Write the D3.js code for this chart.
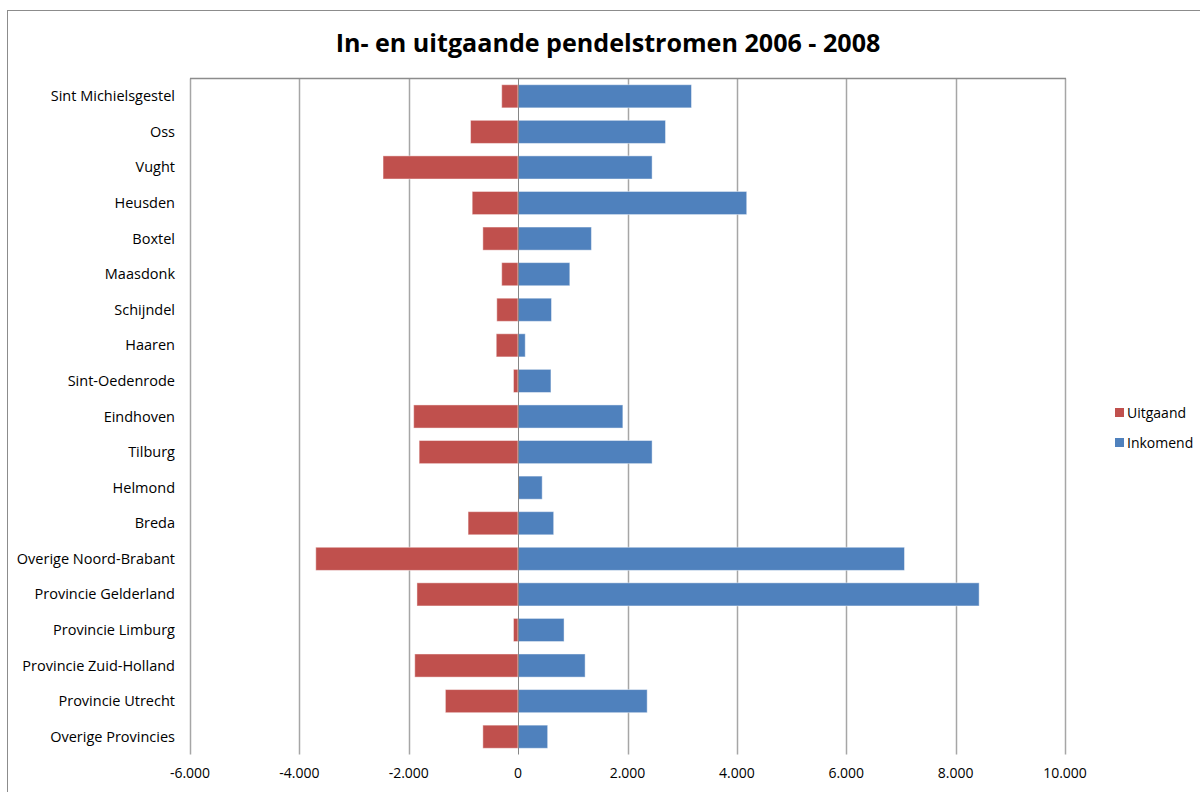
<!DOCTYPE html>
<html><head><meta charset="utf-8">
<script src="https://cdn.jsdelivr.net/npm/d3@7"></script>
<style>body{margin:0;background:#fff}svg{display:block}text{font-family:"Open Sans",Lato,sans-serif;fill:#000}</style>
</head><body><svg id="c" width="1200" height="792"></svg>
<script>
const title = "In- en uitgaande pendelstromen 2006 - 2008";
const categories = ["Sint Michielsgestel","Oss","Vught","Heusden","Boxtel","Maasdonk","Schijndel","Haaren","Sint-Oedenrode","Eindhoven","Tilburg","Helmond","Breda","Overige Noord-Brabant","Provincie Gelderland","Provincie Limburg","Provincie Zuid-Holland","Provincie Utrecht","Overige Provincies"];
const uitgaand = [-300,-870,-2470,-840,-645,-300,-390,-400,-85,-1910,-1810,0,-915,-3700,-1850,-85,-1890,-1330,-645];
const inkomend = [3170,2695,2450,4180,1340,945,610,130,600,1915,2450,440,650,7065,8430,840,1225,2360,540];
const seriesNames = ["Uitgaand","Inkomend"];
const colors = ["#C0504D","#4F81BD"];
const xTicks = [-6000,-4000,-2000,0,2000,4000,6000,8000,10000];

const svg = d3.select("#c");
const L=190,R=1065,T=78.5,B=754.5;
svg.append("rect").attr("x",7.5).attr("y",10.5).attr("width",1300).attr("height",900)
  .attr("fill","none").attr("stroke","#8c8c8c").attr("stroke-width",1);

const tt = svg.append("text").attr("x",608).attr("y",52).attr("text-anchor","middle")
  .attr("font-weight","bold").attr("font-size",24).text(title);
{ const w = tt.node().getComputedTextLength(); if (w>0) tt.attr("font-size", 24*545/w); }

const x = d3.scaleLinear().domain([-6000,10000]).range([L,R]);
const y = d3.scaleBand().domain(categories).range([T,B]).paddingInner(0.35).paddingOuter(0.175);

svg.append("g").selectAll("line").data(xTicks.filter(d=>d!==0)).join("line")
  .attr("x1",d=>Math.round(x(d))+0.5).attr("x2",d=>Math.round(x(d))+0.5)
  .attr("y1",T).attr("y2",B).attr("stroke","#a6a6a6").attr("stroke-width",1.5);
svg.append("line").attr("x1",L).attr("x2",R+1).attr("y1",T).attr("y2",T).attr("stroke","#8c8c8c").attr("stroke-width",1.5);

const g = svg.append("g");
g.selectAll("rect.u").data(categories).join("rect").attr("class","u")
  .attr("x",(d,i)=>x(Math.min(0,uitgaand[i]))).attr("width",(d,i)=>Math.abs(x(uitgaand[i])-x(0)))
  .attr("y",d=>y(d)).attr("height",y.bandwidth()).attr("fill",colors[0])
  .attr("stroke","rgba(255,255,255,0.45)").attr("stroke-width",1);
g.selectAll("rect.i").data(categories).join("rect").attr("class","i")
  .attr("x",x(0)).attr("width",(d,i)=>x(inkomend[i])-x(0))
  .attr("y",d=>y(d)).attr("height",y.bandwidth()).attr("fill",colors[1])
  .attr("stroke","rgba(255,255,255,0.45)").attr("stroke-width",1);

svg.append("line").attr("x1",Math.round(x(0))+0.5).attr("x2",Math.round(x(0))+0.5)
  .attr("y1",T).attr("y2",B).attr("stroke","#868686").attr("stroke-width",1);

const fmt = d=> d3.format(",")(d).replace(/,/g,".").replace("−","-");
svg.append("g").selectAll("text").data(xTicks).join("text")
  .attr("x",d=>x(d)).attr("y",778).attr("text-anchor","middle").attr("font-size",14)
  .text(d=>fmt(d));

svg.append("g").selectAll("text").data(categories).join("text")
  .attr("x",175).attr("y",d=>y(d)+y.bandwidth()/2+5).attr("text-anchor","end").attr("font-size",14.5)
  .text(d=>d);

const lg = svg.append("g");
seriesNames.forEach((s,i)=>{
  const yy = 413 + i*30;
  lg.append("rect").attr("x",1115).attr("y",yy-5).attr("width",9).attr("height",9).attr("fill",colors[i]);
  lg.append("text").attr("x",1127).attr("y",yy+5).attr("font-size",14).text(s);
});
</script></body></html>
